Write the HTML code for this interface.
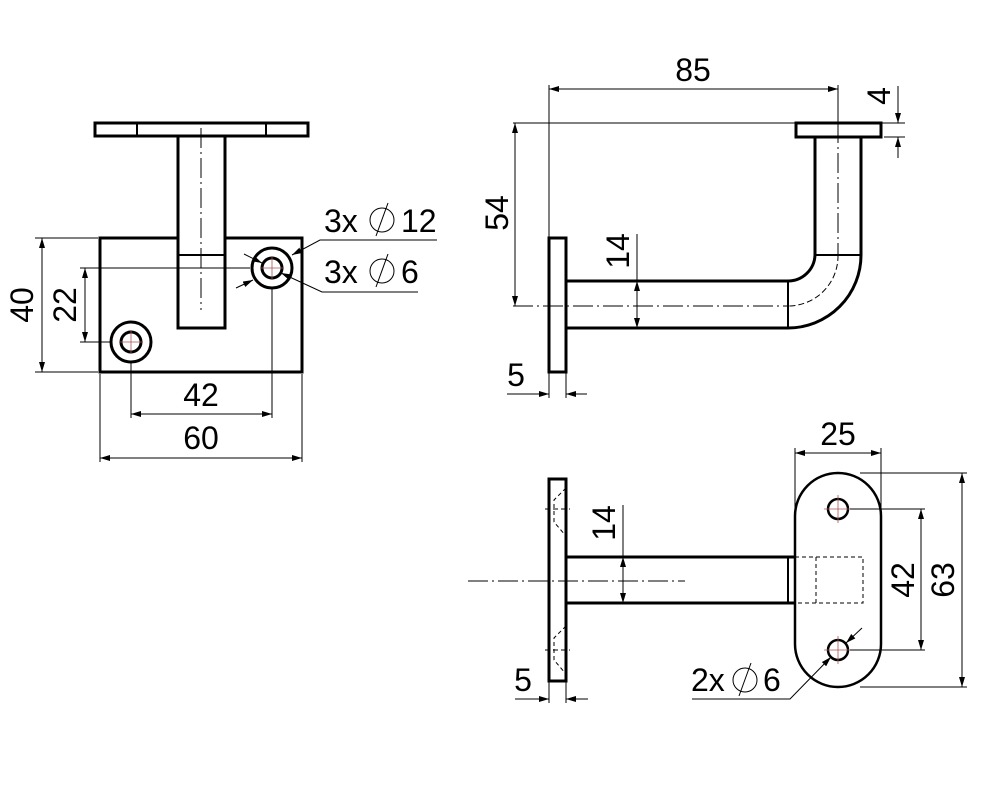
<!DOCTYPE html>
<html><head><meta charset="utf-8"><style>html,body{margin:0;padding:0;background:#fff}svg{display:block}text{font-family:"Liberation Sans","DejaVu Sans",sans-serif;font-size:32px;fill:#000}</style></head>
<body>
<svg width="1000" height="800" viewBox="0 0 1000 800" xmlns="http://www.w3.org/2000/svg">
<defs>
<marker id="a" viewBox="0 0 10 6" refX="10" refY="3" markerWidth="10" markerHeight="6" orient="auto-start-reverse" markerUnits="userSpaceOnUse"><path d="M0,0 L10,3 L0,6 z" fill="#000"/></marker>
</defs>
<g fill="none" stroke="#000">
<!-- VIEW 1 -->
<g stroke-width="3">
<rect x="95" y="123" width="213" height="13"/>
<line x1="137" y1="123" x2="137" y2="136" stroke-width="2"/>
<line x1="266" y1="123" x2="266" y2="136" stroke-width="2"/>
<polyline points="178,136 178,328 225,328 225,136"/>
<polyline points="178,238 100,238 100,372 302,372 302,238 225,238"/>
<line x1="178" y1="255" x2="225" y2="255" stroke-width="2"/>
<circle cx="272" cy="268" r="20"/><circle cx="272" cy="268" r="10"/>
<circle cx="131" cy="342" r="20"/><circle cx="131" cy="342" r="10"/>
</g>
<line x1="201" y1="128" x2="201" y2="310" stroke-width="1" stroke-dasharray="20,4,2,4"/>
<g stroke-width="0.8" stroke="#a55">
<line x1="260" y1="268" x2="284" y2="268"/><line x1="272" y1="256" x2="272" y2="280"/>
<line x1="119" y1="342" x2="143" y2="342"/><line x1="131" y1="330" x2="131" y2="354"/>
</g>
<g stroke-width="1">
<line x1="35" y1="238" x2="98" y2="238"/><line x1="35" y1="372" x2="98" y2="372"/>
<line x1="42" y1="238" x2="42" y2="372" marker-start="url(#a)" marker-end="url(#a)"/>
<line x1="80" y1="268" x2="250" y2="268"/><line x1="80" y1="342" x2="110" y2="342"/>
<line x1="85" y1="268" x2="85" y2="342" marker-start="url(#a)" marker-end="url(#a)"/>
<line x1="131" y1="362" x2="131" y2="418"/><line x1="272" y1="288" x2="272" y2="418"/>
<line x1="131" y1="414" x2="272" y2="414" marker-start="url(#a)" marker-end="url(#a)"/>
<line x1="100" y1="374" x2="100" y2="462"/><line x1="302" y1="374" x2="302" y2="462"/>
<line x1="100" y1="458" x2="302" y2="458" marker-start="url(#a)" marker-end="url(#a)"/>
<polyline points="437,240 320,240 292,255" marker-end="url(#a)"/>
<polyline points="418,292 322,292 281,273" marker-end="url(#a)"/>
<line x1="244" y1="254" x2="262" y2="263" marker-end="url(#a)"/>
<line x1="236" y1="288" x2="253" y2="280" marker-end="url(#a)"/>
<circle cx="382" cy="220" r="12"/><line x1="376" y1="236" x2="388" y2="203"/>
<circle cx="382" cy="271" r="12"/><line x1="376" y1="287" x2="388" y2="254"/>
</g>
<!-- VIEW 2 -->
<g stroke-width="3">
<rect x="796" y="123" width="85" height="14"/>
<rect x="549" y="238" width="17" height="134"/>
<path d="M815,137 L815,255 A27,27 0 0 1 788,281 L566,281"/>
<path d="M861,137 L861,255 A73,73 0 0 1 788,328 L566,328"/>
<line x1="815" y1="255" x2="861" y2="255" stroke-width="2"/>
<line x1="788" y1="281" x2="788" y2="328" stroke-width="2"/>
</g>
<g stroke-width="1">
<line x1="513" y1="306" x2="788" y2="306" stroke-dasharray="20,4,2,4"/>
<line x1="838" y1="123" x2="838" y2="255" stroke-dasharray="20,4,2,4"/>
<path d="M838,255 A50,50 0 0 1 788,306" stroke-dasharray="6,3"/>
<line x1="549" y1="85" x2="549" y2="238"/><line x1="838" y1="85" x2="838" y2="123"/>
<line x1="549" y1="89" x2="838" y2="89" marker-start="url(#a)" marker-end="url(#a)"/>
<line x1="513" y1="123" x2="796" y2="123"/>
<line x1="515" y1="123" x2="515" y2="306" marker-start="url(#a)" marker-end="url(#a)"/>
<line x1="637" y1="234" x2="637" y2="281"/>
<line x1="637" y1="281" x2="637" y2="328" marker-start="url(#a)" marker-end="url(#a)"/>
<line x1="881" y1="123" x2="905" y2="123"/><line x1="884" y1="137" x2="905" y2="137"/>
<line x1="898" y1="86" x2="898" y2="123" marker-end="url(#a)"/>
<line x1="898" y1="158" x2="898" y2="137" marker-end="url(#a)"/>
<line x1="549" y1="372" x2="549" y2="398"/><line x1="566" y1="372" x2="566" y2="398"/>
<line x1="507" y1="394" x2="549" y2="394" marker-end="url(#a)"/>
<line x1="587" y1="394" x2="566" y2="394" marker-end="url(#a)"/>
</g>
<!-- VIEW 3 -->
<g stroke-width="3">
<rect x="549" y="479" width="17" height="202"/>
<polyline points="566,557 795,557"/><polyline points="566,603 795,603"/>
<line x1="788" y1="557" x2="788" y2="603" stroke-width="2"/>
<rect x="795" y="473" width="86" height="214" rx="43" ry="43" stroke-width="2.5"/>
<circle cx="838" cy="509" r="10" stroke-width="2.5"/><circle cx="838" cy="650" r="10" stroke-width="2.5"/>
</g>
<g stroke-width="1">
<path d="M795,557 H863 V603 H795 M816,557 V603" stroke-dasharray="4,3"/>
<path d="M566,488 L554,500 L554,522 L566,536 M566,626 L554,638 L554,660 L566,674" stroke-dasharray="4,3"/>
<line x1="545" y1="509" x2="570" y2="509" stroke-dasharray="5,3"/>
<line x1="545" y1="650" x2="570" y2="650" stroke-dasharray="5,3"/>
<line x1="468" y1="581" x2="685" y2="581" stroke-dasharray="20,4,2,4"/>
<g stroke="#a55" stroke-width="0.8"><line x1="824" y1="509" x2="852" y2="509"/><line x1="838" y1="495" x2="838" y2="523"/><line x1="824" y1="650" x2="852" y2="650"/><line x1="838" y1="636" x2="838" y2="664"/></g>
<line x1="795" y1="448" x2="795" y2="520"/><line x1="881" y1="448" x2="881" y2="520"/>
<line x1="795" y1="453" x2="881" y2="453" marker-start="url(#a)" marker-end="url(#a)"/>
<line x1="850" y1="509" x2="925" y2="509"/><line x1="850" y1="650" x2="925" y2="650"/>
<line x1="921" y1="509" x2="921" y2="650" marker-start="url(#a)" marker-end="url(#a)"/>
<line x1="860" y1="473" x2="967" y2="473"/><line x1="860" y1="687" x2="967" y2="687"/>
<line x1="962" y1="473" x2="962" y2="687" marker-start="url(#a)" marker-end="url(#a)"/>
<line x1="623" y1="505" x2="623" y2="557"/>
<line x1="623" y1="557" x2="623" y2="603" marker-start="url(#a)" marker-end="url(#a)"/>
<line x1="549" y1="681" x2="549" y2="703"/><line x1="566" y1="681" x2="566" y2="703"/>
<line x1="515" y1="699" x2="549" y2="699" marker-end="url(#a)"/>
<line x1="588" y1="699" x2="566" y2="699" marker-end="url(#a)"/>
<polyline points="692,699 790,699 831,657" marker-end="url(#a)"/>
<line x1="862" y1="628" x2="846" y2="643" marker-end="url(#a)"/>
<circle cx="745" cy="680" r="12"/><line x1="739" y1="696" x2="751" y2="663"/>
</g>
</g>
<!-- TEXT -->
<text x="22" y="305" text-anchor="middle" dominant-baseline="central" transform="rotate(-90 22 305)">40</text>
<text x="65" y="305" text-anchor="middle" dominant-baseline="central" transform="rotate(-90 65 305)">22</text>
<text x="201" y="406" text-anchor="middle">42</text>
<text x="201" y="449" text-anchor="middle">60</text>
<text x="324" y="232">3x</text><text x="401" y="232">12</text>
<text x="324" y="283">3x</text><text x="401" y="283">6</text>
<text x="693" y="81" text-anchor="middle">85</text>
<text x="497" y="213" text-anchor="middle" dominant-baseline="central" transform="rotate(-90 497 213)">54</text>
<text x="618" y="251" text-anchor="middle" dominant-baseline="central" transform="rotate(-90 618 251)">14</text>
<text x="879" y="96" text-anchor="middle" dominant-baseline="central" transform="rotate(-90 879 96)">4</text>
<text x="516" y="386" text-anchor="middle">5</text>
<text x="838" y="445" text-anchor="middle">25</text>
<text x="903" y="580" text-anchor="middle" dominant-baseline="central" transform="rotate(-90 903 580)">42</text>
<text x="943" y="580" text-anchor="middle" dominant-baseline="central" transform="rotate(-90 943 580)">63</text>
<text x="604" y="523" text-anchor="middle" dominant-baseline="central" transform="rotate(-90 604 523)">14</text>
<text x="523" y="691" text-anchor="middle">5</text>
<text x="691" y="691">2x</text><text x="763" y="691">6</text>
</svg>
</body></html>
